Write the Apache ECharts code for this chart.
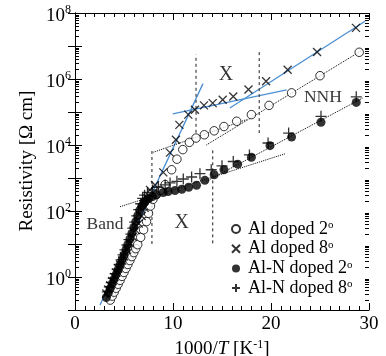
<!DOCTYPE html>
<html>
<head>
<meta charset="utf-8">
<script src="https://cdn.jsdelivr.net/npm/echarts@6/dist/echarts.min.js"></script>
<style>
html,body{margin:0;padding:0;background:#fff;}
#chart{width:386px;height:356px;}
</style>
</head>
<body>
<div id="chart"></div>
<script>
// ---- data (x = 1000/T in K^-1, values = log10 of resistivity in Ohm cm) ----
const al2X = [3.6,3.8,4.0,4.2,4.4,4.6,4.8,5.0,5.2,5.4,5.6,5.8,6.0,6.2,6.4,6.7,7.0,7.3,7.5,7.7,7.95,8.3,8.7,9.2,9.86,10.4,11.0,11.67,12.35,13.2,14.2,15.2,16.5,18.0,19.8,22.1,25.0,29.0];
const al2LogR = [-0.7,-0.58,-0.46,-0.34,-0.22,-0.1,0.02,0.14,0.26,0.38,0.5,0.62,0.74,0.86,0.98,1.2,1.43,1.68,1.93,2.15,2.35,2.5,2.62,2.8,3.25,3.57,3.86,4.08,4.21,4.31,4.43,4.56,4.72,4.92,5.2,5.58,6.10,6.81];

const al8X = [3.2,3.4,3.6,3.8,4.0,4.2,4.4,4.6,4.8,5.0,5.3,5.6,5.9,6.2,6.5,6.8,7.1,7.4,7.65,8.16,9.01,9.69,10.3,10.65,11.56,12.24,13.16,14.05,15.07,16.15,17.7,19.5,21.7,24.7,28.67];
const al8LogR = [-0.5,-0.38,-0.25,-0.12,0.0,0.13,0.26,0.38,0.5,0.63,0.82,1.02,1.22,1.42,1.62,1.85,2.1,2.38,2.64,2.79,3.17,3.77,4.16,4.61,4.92,5.07,5.2,5.27,5.37,5.47,5.68,5.93,6.28,6.82,7.55];

const alN2X = [3.2,3.4,3.6,3.8,4.0,4.2,4.4,4.6,4.8,5.0,5.2,5.4,5.6,5.8,6.0,6.2,6.4,6.6,6.8,7.0,7.2,7.5,7.9,8.3,9.0,9.5,10.2,10.9,11.6,12.4,13.25,14.2,15.2,16.6,18.0,19.9,22.1,25.1,28.7];
const alN2LogR = [-0.62,-0.48,-0.34,-0.2,-0.06,0.08,0.22,0.37,0.52,0.67,0.83,0.99,1.15,1.32,1.5,1.68,1.86,2.02,2.14,2.24,2.31,2.38,2.44,2.49,2.56,2.59,2.62,2.66,2.72,2.78,2.93,3.1,3.25,3.42,3.63,3.98,4.24,4.69,5.29];

const alN8X = [3.3,3.5,3.7,3.9,4.1,4.3,4.5,4.7,4.9,5.1,5.3,5.5,5.7,5.9,6.1,6.3,6.5,6.7,6.9,7.1,7.4,7.9,8.5,9.2,9.7,10.4,11.05,11.9,12.75,13.9,15.0,16.15,17.8,19.7,21.8,25.1,28.7];
const alN8LogR = [-0.45,-0.3,-0.17,-0.04,0.1,0.24,0.38,0.52,0.67,0.82,0.97,1.13,1.3,1.48,1.66,1.85,2.04,2.22,2.38,2.48,2.56,2.64,2.72,2.79,2.85,2.9,2.97,3.03,3.13,3.25,3.37,3.5,3.70,4.06,4.36,4.87,5.46];

const seriesNames = ['Al doped 2°','Al doped 8°','Al-N doped 2°','Al-N doped 8°'];

// fitted lines: [x, log10 R] end points
const blueBand = [[2.55,-0.85],[13.06,5.86]];
const blueX = [[9.97,4.94],[21.6,5.67]];
const blueNNH = [[15.8,5.12],[29.6,7.75]];
const dotAlX = [[8.0,3.78],[17.5,4.77]];
const dotAlNNH = [[13.4,4.0],[29.4,6.89]];
const dotAlNX = [[4.6,2.13],[21.5,3.74]];
const dotAlNNNH = [[13.4,2.9],[29.4,5.43]];
// vertical region boundaries: [x, log10 low, log10 high]
const regionBounds = [[7.85,1.0,3.85],[12.35,4.37,6.74],[14.05,1.02,3.9],[18.8,4.36,6.84]];

// annotations
const annoText = ['Band','X','X','NNH'];
const annoX = [3.06,10.9,15.4,25.3];
const annoLogR = [1.58,1.65,6.13,5.43];

// axis ticks
const xTickLabels = ['0','10','20','30'];
const yExponents = [-1,0,1,2,3,4,5,6,7,8];

// ---- build ----
const pw = v => Math.pow(10, v);
const pts = (xs, ls) => xs.map((x,i) => [x, pw(ls[i])]);
const seg = s => s.map(p => [p[0], pw(p[1])]);

const FONT = 'Liberation Serif';
const crossPath = 'path://M0,0L10,10M0,10L10,0';
const plusPath = 'path://M5,0L5,10M0,5L10,5';

const minorVals = [];
yExponents.slice(0,-1).forEach(e => { for (let k=2;k<=9;k++) minorVals.push([1, k*pw(e)]); });

function lineSeries(points, color, type, width) {
  return {type:'line', data: seg(points), symbol:'none', silent:true, z:1,
    lineStyle:{color:color, type:type, width:width}};
}

const series = [];
series.push({type:'custom', silent:true, z:5, data:minorVals, encode:{x:0,y:1},
  renderItem:function(params, api){
    const y = Math.round(api.coord([1, api.value(1)])[1]) + 0.5;
    const cs = params.coordSys;
    return {type:'group', children:[
      {type:'line', shape:{x1:cs.x, y1:y, x2:cs.x+4, y2:y}, style:{stroke:'#000', lineWidth:1}},
      {type:'line', shape:{x1:cs.x+cs.width, y1:y, x2:cs.x+cs.width-4, y2:y}, style:{stroke:'#000', lineWidth:1}}
    ]};
  }});
series.push(lineSeries(blueBand,'#4a8fd4','solid',1.3));
series.push(lineSeries(blueX,'#4a8fd4','solid',1.3));
series.push(lineSeries(blueNNH,'#4a8fd4','solid',1.3));
series.push(lineSeries(dotAlX,'#000','dotted',1));
series.push(lineSeries(dotAlNNH,'#000','dotted',1));
series.push(lineSeries(dotAlNX,'#000','dotted',1));
series.push(lineSeries(dotAlNNNH,'#000','dotted',1));
regionBounds.forEach(b => {
  series.push(lineSeries([[b[0],b[1]],[b[0],b[2]]],'#444',[3,3],1.2));
});

series.push({name:seriesNames[0], type:'scatter', data:pts(al2X,al2LogR), symbol:'circle', symbolSize:8.5, z:3,
  itemStyle:{color:'#fff', borderColor:'#000', borderWidth:1}});
series.push({name:seriesNames[1], type:'scatter', data:pts(al8X,al8LogR), symbol:crossPath, symbolSize:8, z:3,
  itemStyle:{color:'transparent', borderColor:'#000', borderWidth:1.3}});
series.push({name:seriesNames[2], type:'scatter', data:pts(alN2X,alN2LogR), symbol:'circle', symbolSize:9, z:3,
  itemStyle:{color:'#000', borderColor:'#000', borderWidth:0}});
series.push({name:seriesNames[3], type:'scatter', data:pts(alN8X,alN8LogR), symbol:plusPath, symbolSize:11, z:3,
  itemStyle:{color:'transparent', borderColor:'#000', borderWidth:1.3}});

series.push({type:'scatter', silent:true, z:4, symbolSize:0,
  data: annoText.map((t,i) => ({name:t, value:[annoX[i], pw(annoLogR[i])],
    label:{fontSize: t==='X'?20:17.5}})),
  label:{show:true, position:[0,0], align:'center', verticalAlign:'middle', formatter:'{b}', color:'#000', fontFamily:FONT, fontSize:17.5}});

const expLabel = v => {
  const e = Math.round(Math.log10(v));
  if (e % 2 !== 0) return '';
  return '{b|10}{s|' + e + '}';
};

const axisCommon = {
  axisLine:{show:true, lineStyle:{color:'#000', width:1}},
  splitLine:{show:false},
};

const option = {
  animation:false,
  backgroundColor:'#fff',
  grid:{left:75, right:17, top:13, bottom:46, outerBoundsMode:'none', containLabel:false},
  legend:{
    data:seriesNames, orient:'vertical', left:226, top:215,
    itemWidth:8, itemHeight:8, itemGap:1.7,
    formatter: name => '{t|' + name.replace('°','') + '}{s|o}',
    textStyle:{color:'#000', fontFamily:FONT, fontSize:18, lineHeight:18,
      rich:{t:{fontFamily:FONT, fontSize:18, lineHeight:18, color:'#000', padding:[0,0,0,3]},
            s:{fontFamily:FONT, fontSize:11, lineHeight:11, color:'#000', padding:[0,0,7,0]}}}
  },
  graphic:[{type:'text', x:27, y:161, rotation:Math.PI/2, silent:true,
    style:{text:'Resistivity [Ω cm]', fontFamily:FONT, fontSize:19, fill:'#000', align:'center', verticalAlign:'middle'}}],
  xAxis:[
    Object.assign({type:'value', min:0, max:30, interval:10, position:'bottom',
      axisTick:{show:true, inside:true, length:7, lineStyle:{color:'#000'}},
      minorTick:{show:true, splitNumber:10, length:4, lineStyle:{color:'#000'}},
      axisLabel:{show:true, margin:5, color:'#000', fontFamily:FONT, fontSize:19,
        formatter: v => xTickLabels[Math.round(v/10)]},
      name:'{n|1000/}{i|T}{n| [K}{s|-1}{n|]}', nameLocation:'middle', nameGap:21,
      nameTextStyle:{rich:{n:{fontFamily:FONT, fontSize:19, color:'#000'}, i:{fontFamily:FONT, fontSize:19, fontStyle:'italic', color:'#000'}, s:{fontFamily:FONT, fontSize:12, color:'#000', padding:[0,0,9,0]}}}
    }, axisCommon),
    Object.assign({type:'value', min:0, max:30, interval:10, position:'top',
      axisTick:{show:true, inside:true, length:7, lineStyle:{color:'#000'}},
      minorTick:{show:true, splitNumber:10, length:4, lineStyle:{color:'#000'}},
      axisLabel:{show:false}}, axisCommon)
  ],
  yAxis:[
    Object.assign({type:'log', logBase:10, min:0.1, max:1e8, interval:1, position:'left',
      axisTick:{show:true, inside:true, length:7, lineStyle:{color:'#000'}},
      axisLabel:{show:true, margin:4, color:'#000', formatter:expLabel,
        rich:{b:{fontFamily:FONT, fontSize:19, color:'#000', padding:[6,0,0,0]}, s:{fontFamily:FONT, fontSize:12, color:'#000', padding:[0,0,6,0]}}}
    }, axisCommon),
    Object.assign({type:'log', logBase:10, min:0.1, max:1e8, interval:1, position:'right',
      axisTick:{show:true, inside:true, length:7, lineStyle:{color:'#000'}},
      axisLabel:{show:false}}, axisCommon)
  ],
  series: series
};

const chart = echarts.init(document.getElementById('chart'), null, {renderer:'canvas'});
chart.setOption(option);
</script>
</body>
</html>
